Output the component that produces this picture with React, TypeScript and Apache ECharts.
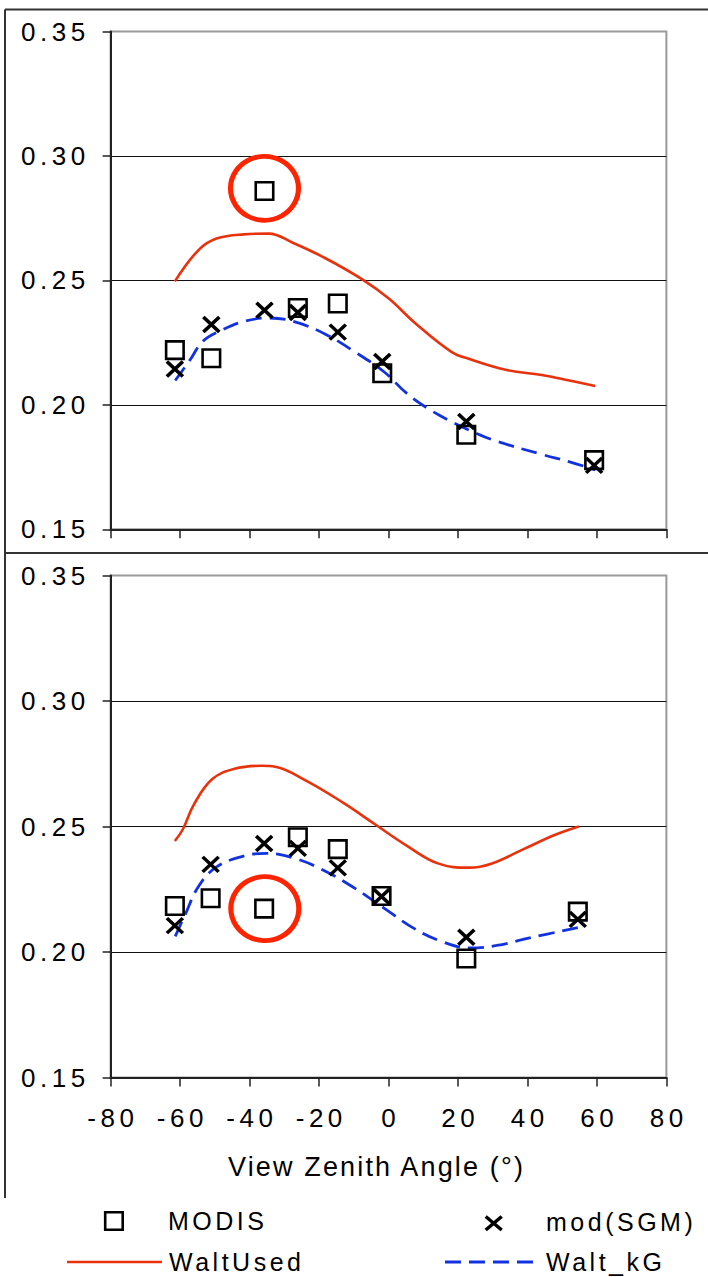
import React, { useEffect, useRef } from "react";
import * as echarts from "echarts";

// ---- Data ----
const xTicks = [-80, -60, -40, -20, 0, 20, 40, 60, 80];
const yTicks = [0.15, 0.2, 0.25, 0.3, 0.35];

// Top panel
const topAngles = [-61.5, -51.0, -35.7, -26.1, -14.6, -1.8, 22.4, 59.2];
const topModis = [0.222, 0.2187, 0.2859, 0.2389, 0.2407, 0.2127, 0.188, 0.1778];
const topSgm = [0.2144, 0.2323, 0.238, 0.2371, 0.2292, 0.2174, 0.1933, 0.1757];
const topWaltUsedX = [-61.5, -54.7, -49.5, -41.7, -34.5, -27.4, -18.3, -7.9, 0, 7.7, 18.1, 23.3, 33.7, 44.1, 50.6, 59.5];
const topWaltUsedY = [0.2496, 0.2622, 0.2668, 0.2685, 0.2688, 0.265, 0.259, 0.2507, 0.2428, 0.2328, 0.2213, 0.2184, 0.2141, 0.212, 0.2102, 0.2076];
const topWaltKgX = [-61.4, -57.3, -53.4, -48.2, -41.7, -34.5, -27.4, -18.3, -10.5, -1.4, 5.1, 11.6, 18.1, 24.6, 31.1, 44.1, 51.9, 59.5];
const topWaltKgY = [0.2098, 0.2177, 0.2256, 0.2299, 0.2335, 0.2349, 0.2335, 0.2285, 0.222, 0.2134, 0.2048, 0.1983, 0.1933, 0.189, 0.1854, 0.1801, 0.1772, 0.1739];
const topHighlight = [-35.7, 0.287];

// Bottom panel
const botAngles = [-61.5, -51.2, -35.8, -26.1, -14.6, -2.0, 22.4, 54.5];
const botModis = [0.2183, 0.2214, 0.2173, 0.2457, 0.241, 0.2223, 0.1974, 0.2161];
const botSgm = [0.2105, 0.2349, 0.2432, 0.2413, 0.2335, 0.2221, 0.2059, 0.213];
const botWaltUsedX = [-61.5, -59.2, -56.0, -50.8, -44.3, -36.5, -32.6, -23.5, -13.1, -4.0, 5.1, 14.2, 23.3, 29.8, 38.9, 48.0, 54.8];
const botWaltUsedY = [0.2442, 0.2489, 0.2588, 0.2688, 0.273, 0.2742, 0.2738, 0.2681, 0.2595, 0.251, 0.2425, 0.2353, 0.2336, 0.2353, 0.241, 0.2467, 0.25];
const botWaltKgX = [-61.4, -58.6, -54.7, -49.5, -41.7, -35.2, -27.4, -19.6, -10.5, -1.4, 7.7, 15.5, 23.3, 31.1, 41.5, 54.5];
const botWaltKgY = [0.2062, 0.2147, 0.2261, 0.2339, 0.2382, 0.2393, 0.2375, 0.2332, 0.2261, 0.2176, 0.2091, 0.2041, 0.2016, 0.2026, 0.2059, 0.2097];
const botHighlight = [-35.6, 0.2173];

const legendNames = ["MODIS", "mod(SGM)", "WaltUsed", "Walt_kG"];
const xAxisTitle = "View Zenith Angle (°)";

// ---- Styles ----
const FONT = "'Liberation Sans', Arial, sans-serif";
const RED = "#e8320c";
const CIRCLE_RED = "#ff2400";
const BLUE = "#1232e0";
const X_PATH = "path://M0,0L10,10M10,0L0,10";
const DASH = [16, 8];

const CSS = `
svg text[style*="26px"] { letter-spacing: 4.5px; }
svg text[style*="27px"] { letter-spacing: 2.15px; }
svg text[style*="25px"] { letter-spacing: 3.5px; }
`;

const zip = (xs: number[], ys: number[]) => xs.map((x, i) => [x, ys[i]]);

function panelSeries(
  idx: number,
  angles: number[],
  modis: number[],
  sgm: number[],
  wuX: number[],
  wuY: number[],
  wkX: number[],
  wkY: number[],
  hl: number[]
) {
  return [
    {
      name: legendNames[2],
      type: "line",
      xAxisIndex: idx,
      yAxisIndex: idx,
      data: zip(wuX, wuY),
      smooth: 0.4,
      symbol: "none",
      lineStyle: { color: RED, width: 2.6 },
      itemStyle: { color: RED },
      z: 2,
    },
    {
      name: legendNames[3],
      type: "line",
      xAxisIndex: idx,
      yAxisIndex: idx,
      data: zip(wkX, wkY),
      smooth: 0.4,
      symbol: "none",
      lineStyle: { color: BLUE, width: 2.8, type: DASH },
      itemStyle: { color: BLUE },
      z: 2,
    },
    {
      name: legendNames[0],
      type: "scatter",
      xAxisIndex: idx,
      yAxisIndex: idx,
      data: zip(angles, modis),
      symbol: "rect",
      symbolSize: 17.5,
      itemStyle: { color: "rgba(255,255,255,0)", borderColor: "#000", borderWidth: 2.6, opacity: 1 },
      z: 3,
    },
    {
      name: legendNames[1],
      type: "scatter",
      xAxisIndex: idx,
      yAxisIndex: idx,
      data: zip(angles, sgm),
      symbol: X_PATH,
      symbolSize: [16, 15],
      itemStyle: { color: "none", borderColor: "#000", borderWidth: 3.5, opacity: 1 },
      z: 4,
    },
    {
      name: "highlight",
      type: "scatter",
      xAxisIndex: idx,
      yAxisIndex: idx,
      data: [hl],
      symbol: "circle",
      symbolSize: [68, 64],
      itemStyle: { color: "rgba(255,255,255,0)", borderColor: CIRCLE_RED, borderWidth: 5, opacity: 1 },
      z: 5,
      silent: true,
    },
  ];
}

export default function App() {
  const ref = useRef<HTMLDivElement>(null);
  useEffect(() => {
    if (!ref.current) return;
    const chart = echarts.init(ref.current, null, { renderer: "svg" });

    const xAxisBase = (gridIndex: number, showLabels: boolean) => ({
      type: "value",
      gridIndex,
      min: xTicks[0],
      max: xTicks[xTicks.length - 1],
      interval: 20,
      axisLine: { show: true, onZero: false, lineStyle: { color: "#222", width: 2 } },
      axisTick: { show: true, inside: false, length: 9, lineStyle: { color: "#222", width: 1.5 } },
      splitLine: { show: false },
      axisLabel: {
        show: showLabels,
        margin: 27,
        fontSize: 26,
        color: "#000",
        fontFamily: FONT,
        padding: [0, 0, 0, 4.5],
        formatter: (v: number) => String(v),
      },
      ...(showLabels
        ? {
            name: xAxisTitle,
            nameLocation: "middle",
            nameGap: 76,
            nameTextStyle: { fontSize: 27, color: "#000", fontFamily: FONT, padding: [0, 24, 0, 0] },
          }
        : {}),
    });

    const yAxisBase = (gridIndex: number) => ({
      type: "value",
      gridIndex,
      min: yTicks[0],
      max: yTicks[yTicks.length - 1],
      interval: 0.05,
      axisLine: { show: true, onZero: false, lineStyle: { color: "#222", width: 2 } },
      axisTick: { show: true, inside: false, length: 8, lineStyle: { color: "#222", width: 1.5 } },
      splitLine: {
        show: true,
        lineStyle: { color: ["#222", "#111", "#111", "#111", "#999"], width: 1 },
      },
      axisLabel: {
        margin: 21,
        fontSize: 26,
        color: "#000",
        fontFamily: FONT,
        formatter: (v: number) => v.toFixed(2),
      },
    });

    const legendText = (text: string, x: number, y: number) => ({
      type: "text",
      x,
      y,
      style: {
        text,
        fontSize: 25,
        fontFamily: FONT,
        fill: "#000",
        textAlign: "left",
        textVerticalAlign: "middle",
      },
    });

    chart.setOption({
      animation: false,
      backgroundColor: "#fff",
      grid: [
        { left: 110.6, top: 31.5, width: 555.8, height: 497.8, show: true, borderColor: "#999", borderWidth: 2, backgroundColor: "#fff" },
        { left: 110.6, top: 575.5, width: 555.8, height: 502, show: true, borderColor: "#999", borderWidth: 2, backgroundColor: "#fff" },
      ],
      xAxis: [xAxisBase(0, false), xAxisBase(1, true)],
      yAxis: [yAxisBase(0), yAxisBase(1)],
      graphic: [
        // frame
        { type: "line", shape: { x1: 5, y1: 9.5, x2: 708, y2: 9.5 }, style: { stroke: "#333", lineWidth: 2 } },
        { type: "line", shape: { x1: 5, y1: 9.5, x2: 5, y2: 1198 }, style: { stroke: "#333", lineWidth: 2 } },
        { type: "line", shape: { x1: 5, y1: 553, x2: 708, y2: 553 }, style: { stroke: "#333", lineWidth: 2 } },
        // legend: MODIS
        { type: "rect", shape: { x: 105.2, y: 1212.2, width: 17.5, height: 17.5 }, style: { fill: "none", stroke: "#000", lineWidth: 2.6 } },
        legendText(legendNames[0], 168, 1221),
        // legend: mod(SGM)
        { type: "line", shape: { x1: 485.7, y1: 1216.5, x2: 501.7, y2: 1230 }, style: { stroke: "#000", lineWidth: 3.5 } },
        { type: "line", shape: { x1: 501.7, y1: 1216.5, x2: 485.7, y2: 1230 }, style: { stroke: "#000", lineWidth: 3.5 } },
        legendText(legendNames[1], 546, 1222),
        // legend: WaltUsed
        { type: "line", shape: { x1: 67, y1: 1262, x2: 162, y2: 1262 }, style: { stroke: RED, lineWidth: 2.6 } },
        legendText(legendNames[2], 169, 1262),
        // legend: Walt_kG
        { type: "line", shape: { x1: 445, y1: 1262, x2: 540, y2: 1262 }, style: { stroke: BLUE, lineWidth: 2.8, lineDash: DASH } },
        legendText(legendNames[3], 546, 1262),
      ],
      series: [
        ...panelSeries(0, topAngles, topModis, topSgm, topWaltUsedX, topWaltUsedY, topWaltKgX, topWaltKgY, topHighlight),
        ...panelSeries(1, botAngles, botModis, botSgm, botWaltUsedX, botWaltUsedY, botWaltKgX, botWaltKgY, botHighlight),
      ],
    });
    return () => chart.dispose();
  }, []);

  return (
    <>
      <style>{CSS}</style>
      <div
        ref={ref}
        style={{ position: "absolute", left: 0, top: 0, width: 708, height: 1277 }}
      />
    </>
  );
}
